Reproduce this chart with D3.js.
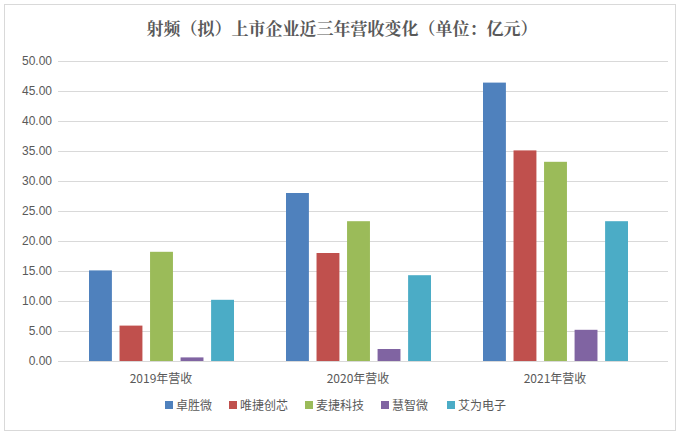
<!DOCTYPE html>
<html><head><meta charset="utf-8">
<script src="https://cdn.jsdelivr.net/npm/d3@7/dist/d3.min.js"></script>
<style>body{margin:0;background:#fff}</style></head>
<body><svg id="c" width="684" height="443"></svg>
<script>
const categories = ["2019年营收","2020年营收","2021年营收"];
const seriesNames = ["卓胜微","唯捷创芯","麦捷科技","慧智微","艾为电子"];
const colors = ["#4f81bd","#c0504d","#9bbb59","#8064a2","#4bacc6"];
const values = [
  [15.1, 28.0, 46.4],
  [5.9, 18.0, 35.1],
  [18.2, 23.3, 33.2],
  [0.6, 2.0, 5.2],
  [10.2, 14.3, 23.3]
];
const yTicks = [0,5,10,15,20,25,30,35,40,45,50];
const svg = d3.select("#c");
svg.append("rect").attr("x",4.5).attr("y",4.5).attr("width",671).attr("height",426).attr("fill","#fff").attr("stroke","#d9d9d9");
const L=58,R=668,T=61,B=361;
const y=d3.scaleLinear().domain([0,50]).range([B,T]);
const x0=d3.scaleBand().domain(categories).range([L,L+591]);
const x1=d3.scaleBand().domain(seriesNames).range([31,176]).paddingInner(0.25);
svg.append("g").selectAll("line").data(yTicks).join("line")
 .attr("x1",L).attr("x2",R).attr("y1",d=>y(d)+.5).attr("y2",d=>y(d)+.5).attr("stroke","#d9d9d9");
svg.append("g").selectAll("text").data(yTicks).join("text")
 .attr("x",L-6).attr("y",d=>y(d)+4).attr("text-anchor","end").attr("font-family","Liberation Sans, Arial").attr("font-size",12).attr("fill","#595959").text(d=>d.toFixed(2));
seriesNames.forEach((s,i)=>{
  svg.append("g").selectAll("rect").data(values[i]).join("rect")
   .attr("x",(d,j)=>x0(categories[j])+x1(s)).attr("width",x1.bandwidth())
   .attr("y",d=>y(d)).attr("height",d=>B-y(d)).attr("fill",colors[i]);
});
svg.append("g").selectAll("text").data(categories).join("text")
 .attr("x",d=>x0(d)+103).attr("y",B+22).attr("text-anchor","middle")
 .attr("font-family","Noto Sans CJK SC").attr("font-size",12).attr("fill","#595959").text(d=>d);
svg.append("text").attr("x",342).attr("y",35).attr("text-anchor","middle").attr("font-family","Noto Serif CJK SC, Noto Sans CJK SC").attr("font-weight","bold").attr("font-size",17).attr("fill","#595959").text("射频（拟）上市企业近三年营收变化（单位：亿元）");
const lx=[165,229,305,381,447];
seriesNames.forEach((s,i)=>{
  const g=svg.append("g").attr("transform",`translate(${lx[i]},410)`);
  g.append("rect").attr("x",0).attr("y",-9).attr("width",8).attr("height",8).attr("fill",colors[i]);
  g.append("text").attr("x",11).attr("y",0).attr("font-family","Noto Sans CJK SC").attr("font-size",12).attr("fill","#595959").text(s);
});
</script></body></html>
